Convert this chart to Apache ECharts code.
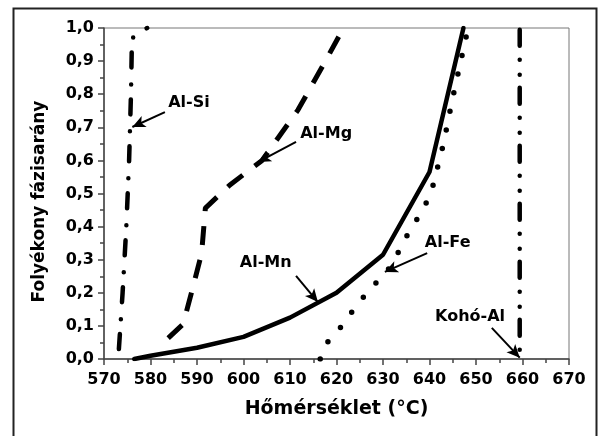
<!DOCTYPE html>
<html><head><meta charset="utf-8">
<script src="https://cdn.jsdelivr.net/npm/echarts@6/dist/echarts.min.js"></script>
<style>html,body{margin:0;padding:0;background:#fff}#c{width:599px;height:436px}</style>
</head><body><div id="c"></div>
<script>
// ---- data ----
const xTicks = [570, 580, 590, 600, 610, 620, 630, 640, 650, 660, 670];
const yTicks = [0, 0.1, 0.2, 0.3, 0.4, 0.5, 0.6, 0.7, 0.8, 0.9, 1.0];

const alSiX = [573.2, 574.0, 574.8, 575.4, 575.8, 576.0, 576.5, 579.3];
const alSiY = [0.03, 0.2, 0.4, 0.6, 0.8, 0.96, 0.98, 1.0];

const alMgX = [583.8, 587.0, 589.0, 591.0, 591.8, 597.0, 604.0, 611.7, 617.5, 621.5];
const alMgY = [0.063, 0.105, 0.21, 0.32, 0.456, 0.525, 0.60, 0.752, 0.897, 1.0];

const alMnX = [576.5, 580, 590, 600, 610, 620, 630, 640, 647.3];
const alMnY = [0.0, 0.01, 0.034, 0.067, 0.125, 0.2, 0.315, 0.565, 1.0];

const alFeX = [616.5, 618.3, 621.7, 624.0, 627.4, 630.8, 633.2, 635.8, 638.6, 640.5, 643.0, 645.0, 648.3];
const alFeY = [0.0, 0.057, 0.108, 0.157, 0.214, 0.263, 0.32, 0.39, 0.45, 0.51, 0.65, 0.79, 1.0];

const kohoX = [659.4, 659.4];
const kohoY = [0.995, 0.005];

// annotations (data coordinates)
const annoText = ['Al-Si', 'Al-Mg', 'Al-Mn', 'Al-Fe', 'Kohó-Al'];
const annoLabelAt = [[583.8, 0.773], [612.2, 0.68], [599.2, 0.29], [639.0, 0.35], [641.2, 0.127]];
const annoFrom = [[583.1, 0.746], [611.3, 0.656], [611.3, 0.251], [639.5, 0.320], [653.4, 0.094]];
const annoTo = [[576.1, 0.701], [603.1, 0.595], [616.0, 0.172], [630.4, 0.263], [659.4, 0.004]];

const zip = (xs, ys) => xs.map((x, i) => [x, ys[i]]);
const FONT = 'DejaVu Sans';

const chart = echarts.init(document.getElementById('c'), null, {renderer: 'canvas'});

const baseLine = (name, xs, ys, ls) => ({
  name, type: 'line', data: zip(xs, ys), showSymbol: false, symbol: 'none',
  smooth: false, clip: true, animation: false, silent: true,
  lineStyle: Object.assign({color: '#000'}, ls)
});

// dash-dot lines: the path is built from the data through the axes (api.coord)
// and stroked with a canvas dash pattern, without clipping
const patternSeries = (name, xs, ys, pattern, width) => ({
  name, type: 'custom', coordinateSystem: 'cartesian2d', clip: false, silent: true, animation: false,
  z: 3,
  data: zip(xs, ys),
  renderItem: (params, api) => {
    if (params.dataIndex !== 0) return null;
    const pts = xs.map((x, i) => api.coord([x, ys[i]]));
    return {
      type: 'polyline', shape: {points: pts},
      style: {stroke: '#000', fill: null, lineWidth: width, lineCap: 'round', lineJoin: 'round', lineDash: pattern}
    };
  }
});

const frame = {
  type: 'rect', left: 11, top: 6, z: 100, silent: true,
  shape: {x: 0, y: 0, width: 583, height: 480},
  style: {fill: null, stroke: '#222', lineWidth: 2}
};

chart.setOption({
  animation: false,
  backgroundColor: '#fff',
  grid: {left: 104, right: 30, top: 28, bottom: 77, show: true, borderColor: '#777', borderWidth: 1, backgroundColor: 'transparent'},
  xAxis: {
    type: 'value', min: 570, max: 670, interval: 10,
    name: 'Hőmérséklet (°C)', nameLocation: 'middle', nameGap: 41,
    nameTextStyle: {fontFamily: FONT, fontWeight: 'bold', fontSize: 19, color: '#000'},
    axisLine: {show: true, onZero: false, lineStyle: {color: '#444', width: 1.5}},
    axisTick: {show: true, inside: false, length: 6, lineStyle: {color: '#444', width: 1.5}},
    minorTick: {show: true, splitNumber: 2, length: 4, lineStyle: {color: '#444', width: 1.5}},
    splitLine: {show: false},
    axisLabel: {margin: 13, fontFamily: FONT, fontWeight: 'bold', fontSize: 16, color: '#000',
      formatter: v => xTicks.includes(v) ? String(v) : ''}
  },
  yAxis: {
    type: 'value', min: 0, max: 1, interval: 0.1,
    name: 'Folyékony fázisarány', nameLocation: 'middle', nameGap: 56,
    nameTextStyle: {fontFamily: FONT, fontWeight: 'bold', fontSize: 17, color: '#000', padding: [0, 16, 0, 0]},
    axisLine: {show: true, onZero: false, lineStyle: {color: '#444', width: 1.5}},
    axisTick: {show: true, inside: false, length: 6, lineStyle: {color: '#444', width: 1.5}},
    minorTick: {show: true, splitNumber: 2, length: 4, lineStyle: {color: '#444', width: 1.5}},
    splitLine: {show: false},
    axisLabel: {margin: 10, fontFamily: FONT, fontWeight: 'bold', fontSize: 16, color: '#000',
      formatter: v => yTicks.some(t => Math.abs(t - v) < 1e-9) ? v.toFixed(1).replace('.', ',') : ''}
  },
  graphic: [frame],
  series: [
    patternSeries('Al-Si', alSiX, alSiY, [15, 15, 0, 17], 4.5),
    baseLine('Al-Mg', alMgX, alMgY, {width: 5, type: [19, 15], cap: 'butt'}),
    baseLine('Al-Mn', alMnX, alMnY, {width: 4.5, type: 'solid', cap: 'round', join: 'round'}),
    baseLine('Al-Fe', alFeX, alFeY, {width: 5.5, type: [0, 19], cap: 'round'}),
    patternSeries('Kohó-Al', kohoX, kohoY, [16, 14, 0, 15, 0, 13], 4.5),
    {
      name: 'arrows', type: 'line', data: [], silent: true, animation: false,
      markLine: {
        silent: true, animation: false, symbol: ['none', 'arrow'], symbolSize: [9, 13],
        label: {show: false},
        lineStyle: {color: '#000', width: 2, type: 'solid'},
        data: annoFrom.map((f, i) => [{coord: f}, {coord: annoTo[i]}])
      }
    }
  ]
});

// annotation texts placed through the chart's own coordinate conversion
const texts = annoText.map((t, i) => {
  const p = chart.convertToPixel({gridIndex: 0}, annoLabelAt[i]);
  return {
    type: 'text', x: p[0], y: p[1], z: 50, silent: true,
    style: {text: t, fill: '#000', font: 'bold 16px "' + FONT + '"', textAlign: 'left', textVerticalAlign: 'middle'}
  };
});
chart.setOption({graphic: [frame].concat(texts)});
</script></body></html>
